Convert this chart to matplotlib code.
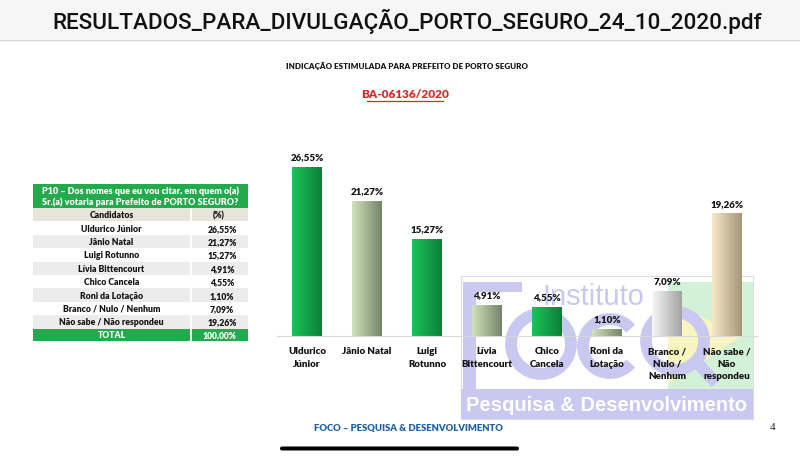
import numpy as np
import matplotlib
matplotlib.use("Agg")
import matplotlib.pyplot as plt
from matplotlib.patches import Rectangle, FancyBboxPatch, Polygon, Arc

# ---------------- data ----------------
categories = ["Uldurico\nJúnior", "Jânio Natal", "Luigi\nRotunno", "Lívia\nBittencourt",
              "Chico\nCancela", "Roni da\nLotação", "Branco /\nNulo /\nNenhum",
              "Não sabe /\nNão\nrespondeu"]
values = [26.55, 21.27, 15.27, 4.91, 4.55, 1.10, 7.09, 19.26]
value_labels = ["26,55%", "21,27%", "15,27%", "4,91%", "4,55%", "1,10%", "7,09%", "19,26%"]

table_names = ["Uldurico Júnior", "Jânio Natal", "Luigi Rotunno", "Lívia Bittencourt",
               "Chico Cancela", "Roni da Lotação", "Branco / Nulo / Nenhum",
               "Não sabe / Não respondeu"]
table_values = ["26,55%", "21,27%", "15,27%", "4,91%", "4,55%", "1,10%", "7,09%", "19,26%"]
table_total = "100,00%"

window_title = "RESULTADOS_PARA_DIVULGAÇÃO_PORTO_SEGURO_24_10_2020.pdf"
chart_title = "INDICAÇÃO ESTIMULADA PARA PREFEITO DE PORTO SEGURO"
chart_code = "BA-06136/2020"
footer = "FOCO – PESQUISA & DESENVOLVIMENTO"
page_no = "4"

# gradient styles (left colour, right colour)
GREEN = ("#1cc45a", "#0a8038")
OLIVE = ("#cfe2b8", "#76866a")
GREY = ("#f7f7f7", "#a3a3a3")
BEIGE = ("#f6e9c8", "#a5977a")
bar_styles = [GREEN, OLIVE, GREEN, OLIVE, GREEN, OLIVE, GREY, BEIGE]

FONT = ["Lato", "DejaVu Sans"]
plt.rcParams["font.family"] = FONT
WT = "heavy"
TXT = "#151515"

W, H = 800, 464
fig = plt.figure(figsize=(W / 100, H / 100), dpi=100)
fig.patch.set_facecolor("white")

# ---------------- background / page axes (pixel coordinates) ----------------
bg = fig.add_axes([0, 0, 1, 1], zorder=0)
bg.set_xlim(0, W)
bg.set_ylim(H, 0)
bg.axis("off")

# top bar
bg.add_patch(Rectangle((0, 0), W, 40, facecolor="#f6f6f6", edgecolor="none"))
bg.plot([0, W], [40.5, 40.5], color="#d6d6d6", lw=1)
bg.text(407, 21, window_title, ha="center", va="center", fontsize=16.2,
        family=["Roboto", "DejaVu Sans"], fontweight="medium", color="#111111")

# chart titles
bg.text(407, 66, chart_title, ha="center", va="center", fontsize=5.8,
        fontweight=WT, color=TXT)
bg.text(405, 95, chart_code, ha="center", va="center", fontsize=8.5,
        fontweight=WT, color="#d42b2b")
bg.plot([367, 443], [101.5, 101.5], color="#d42b2b", lw=0.9)

# watermark (Instituto Foco)
lav = "#c8c8f0"
bg.add_patch(Rectangle((461, 277), 292, 143, facecolor="none", edgecolor="#dcdcdc", lw=0.8))
bg.add_patch(Rectangle((668, 283), 85, 107, facecolor="#d3f1d6", edgecolor="none"))
bg.add_patch(Polygon([[668, 300], [740, 338], [668, 385]], closed=True,
                     facecolor="#f9f5c0", edgecolor="none"))
bg.add_patch(Rectangle((461, 390), 292, 30, facecolor=lav, edgecolor="none"))
bg.text(607, 406, "Pesquisa & Desenvolvimento", ha="center", va="center",
        fontsize=14.5, fontweight="bold", family=["Liberation Sans", "DejaVu Sans"],
        color="white")
bg.text(593, 305, "Instituto", ha="center", va="baseline", fontsize=21,
        family=["Liberation Sans", "DejaVu Sans"], color=lav)
# F
bg.add_patch(Rectangle((463, 283), 13, 107, facecolor=lav, edgecolor="none"))
bg.add_patch(Rectangle((463, 283), 59, 10, facecolor=lav, edgecolor="none"))
ring_lw = 8.5
bg.add_patch(Arc((541, 345), 60, 60, theta1=0, theta2=360, color=lav, lw=ring_lw))
bg.add_patch(Arc((610, 347), 54, 54, theta1=40, theta2=320, color=lav, lw=ring_lw))
bg.add_patch(Arc((675, 342), 58, 58, theta1=0, theta2=360, color=lav, lw=ring_lw))
bg.plot([692, 716], [358, 384], color=lav, lw=ring_lw, solid_capstyle="butt")

# table
tx0, tx1, tsplit = 33, 248, 190
green_tab = "#22aa4c"
fs_tab = 6.2
fs_head = 6.5
bg.add_patch(Rectangle((tx0, 185), tx1 - tx0, 24, facecolor=green_tab, edgecolor="none"))
bg.text((tx0 + tx1) / 2, 191.5, "P10 – Dos nomes que eu vou citar, em quem o(a)",
        ha="center", va="center", fontsize=fs_head, fontweight=WT, color="white")
bg.text((tx0 + tx1) / 2, 202.5, "Sr.(a) votaria para Prefeito de PORTO SEGURO?",
        ha="center", va="center", fontsize=fs_head, fontweight=WT, color="white")
row_h = 13.4
y = 209
bg.add_patch(Rectangle((tx0, y), tsplit - tx0, row_h, facecolor="#e7e5da", edgecolor="none"))
bg.add_patch(Rectangle((tsplit + 1.5, y), tx1 - tsplit - 1.5, row_h, facecolor="#e7e5da", edgecolor="none"))
bg.text((tx0 + tsplit) / 2, y + row_h / 2, "Candidatos", ha="center", va="center",
        fontsize=fs_tab, fontweight=WT, color=TXT)
bg.text((tsplit + tx1) / 2, y + row_h / 2, "(%)", ha="center", va="center",
        fontsize=fs_tab, fontweight=WT, color=TXT)
y += row_h
for i, (n, v) in enumerate(zip(table_names, table_values)):
    fc = "white" if i % 2 == 0 else "#ececec"
    bg.add_patch(Rectangle((tx0, y), tsplit - tx0, row_h, facecolor=fc, edgecolor="none"))
    bg.add_patch(Rectangle((tsplit + 1.5, y), tx1 - tsplit - 1.5, row_h, facecolor=fc, edgecolor="none"))
    bg.text((tx0 + tsplit) / 2, y + row_h / 2, n, ha="center", va="center",
            fontsize=fs_tab, fontweight=WT, color=TXT)
    bg.text((tsplit + tx1) / 2 + 3, y + row_h / 2, v, ha="center", va="center",
            fontsize=fs_tab, fontweight=WT, color=TXT)
    y += row_h
bg.add_patch(Rectangle((tx0, y), tsplit - tx0, 12.5, facecolor=green_tab, edgecolor="none"))
bg.add_patch(Rectangle((tsplit + 1.5, y), tx1 - tsplit - 1.5, 12.5, facecolor=green_tab, edgecolor="none"))
bg.text((tx0 + tsplit) / 2, y + 6.3, "TOTAL", ha="center", va="center",
        fontsize=fs_tab, fontweight=WT, color="white")
bg.text((tsplit + tx1) / 2, y + 6.3, table_total, ha="center", va="center",
        fontsize=fs_tab, fontweight=WT, color="white")

# footer
bg.text(408, 429, footer, ha="center", va="center", fontsize=6.8,
        fontweight=WT, color="#1f5fa6")
bg.text(773, 428, page_no, ha="center", va="center", fontsize=8,
        family=["Liberation Serif", "DejaVu Serif"], color="#222222")
bg.add_patch(FancyBboxPatch((280, 447.5), 239, 4, boxstyle="round,pad=0,rounding_size=2",
                            facecolor="black", edgecolor="none"))

# ---------------- chart axes ----------------
base_px, top_px = 337, 146
ax = fig.add_axes([277 / W, (H - base_px) / H, 480 / W, (base_px - top_px) / H], zorder=1)
ax.set_facecolor("none")
x = np.arange(len(values))
bars = ax.bar(x, values, width=0.5, facecolor="none", edgecolor="none", zorder=2)

for b, (c0, c1) in zip(bars, bar_styles):
    x0, w, h = b.get_x(), b.get_width(), b.get_height()
    cmap = matplotlib.colors.LinearSegmentedColormap.from_list("g", [c0, c1])
    grad = np.linspace(0, 1, 64).reshape(1, -1)
    im = ax.imshow(grad, extent=[x0, x0 + w, 0, h], aspect="auto", cmap=cmap,
                   origin="lower", zorder=2, interpolation="bilinear")
    im.set_clip_path(b)

for xi, v, lab in zip(x, values, value_labels):
    ax.annotate(lab, (xi, v), xytext=(0, 4), textcoords="offset points",
                ha="center", va="bottom", fontsize=7, fontweight=WT, color=TXT)

ax.set_xlim(-0.5, len(values) - 0.5)
ax.set_ylim(0, 30)
ax.set_xticks(x)
ax.set_xticklabels(categories, fontsize=7, fontweight=WT, color=TXT,
                   linespacing=1.45, va="top")
ax.tick_params(axis="x", length=0, pad=7.5)
ax.set_yticks([])
for s in ["top", "left", "right"]:
    ax.spines[s].set_visible(False)
ax.spines["bottom"].set_color("#d9d9d9")
ax.spines["bottom"].set_linewidth(0.8)

fig.savefig("out.png", dpi=100, facecolor="white")
